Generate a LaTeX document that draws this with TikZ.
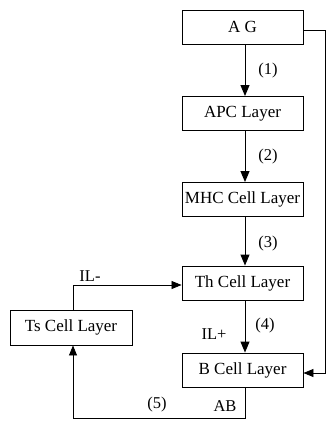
\documentclass[tikz,border=0pt]{standalone}
\usepackage{fontspec}
\setmainfont{Liberation Serif}
\usetikzlibrary{arrows.meta}
\begin{document}
\begin{tikzpicture}[x=1pt,y=-1pt,
  layer/.style={draw,line width=0.9pt,minimum width=121pt,minimum height=34pt,inner sep=0pt,font=\fontsize{17}{19}\selectfont},
  conn/.style={line width=1pt,-{Triangle[length=11pt,width=9pt]}},
  thin/.style={line width=0.7pt,-{Triangle[length=10pt,width=8pt]}},
  lbl/.style={font=\fontsize{16.5}{18}\selectfont,inner sep=0pt}]
\useasboundingbox (0,0) rectangle (326,421);
\node[layer] (ag) at (242.5,27) {A G};
\node[layer] (apc) at (242.5,113.5) {APC Layer};
\node[layer] (mhc) at (242.5,199.5) {MHC Cell Layer};
\node[layer] (th) at (242.5,283) {Th Cell Layer};
\node[layer] (b) at (242.5,370) {B Cell Layer};
\node[layer,minimum width=122pt,minimum height=35pt] (ts) at (71,327.5) {Ts Cell Layer};
\coordinate (tr) at (325.5,30);
\coordinate (br) at (325.5,373);
\coordinate (tl) at (73,285);
\coordinate (bl) at (73,418);
\coordinate (bm) at (245,418);
\draw[conn] (ag.south -| 245,0) -- (apc.north -| 245,0);
\draw[conn] (apc.south -| 245,0) -- (mhc.north -| 245,0);
\draw[conn] (mhc.south -| 245,0) -- (th.north -| 245,0);
\draw[conn] (th.south -| 245,0) -- (b.north -| 245,0);
\draw[thin] (ag.east |- tr) -- (tr) -- (br) -- (b.east |- br);
\draw[thin] (ts.north -| tl) -- (tl) -- (th.west |- tl);
\draw[thin] (b.south -| bm) -- (bm) -- (bl) -- (ts.south -| bl);
\node[lbl] at (268,71) {(1)};
\node[lbl] at (268,157) {(2)};
\node[lbl] at (268,244) {(3)};
\node[lbl] at (265,326) {(4)};
\node[lbl] at (214,334) {IL+};
\node[lbl] at (90,276) {IL-};
\node[lbl] at (157,405) {(5)};
\node[lbl] at (225,406) {AB};
\end{tikzpicture}
\end{document}
